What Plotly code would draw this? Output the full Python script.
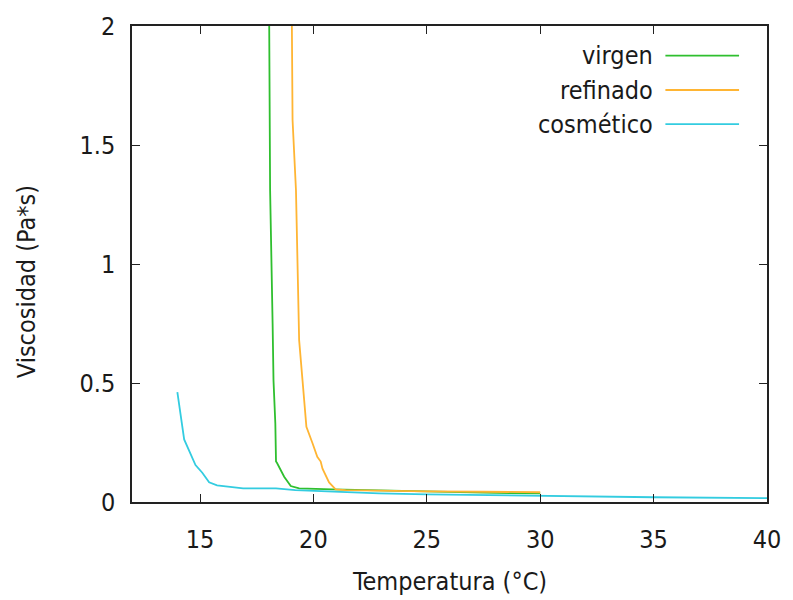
import plotly.graph_objects as go

# Data
virgen_x = [18.05, 18.09, 18.2, 18.24, 18.32, 18.35, 18.39, 18.64, 18.71, 19.0, 19.37, 20.83, 22.9, 25.0, 27.5, 30.0]
virgen_y = [2.0, 1.31, 0.75, 0.51, 0.33, 0.17, 0.165, 0.12, 0.106, 0.067, 0.057, 0.053, 0.048, 0.043, 0.039, 0.036]

refinado_x = [19.05, 19.08, 19.23, 19.37, 19.52, 19.69, 19.96, 20.17, 20.32, 20.4, 20.69, 20.9, 20.98, 21.42, 22.9, 25.0, 27.5, 30.0]
refinado_y = [2.0, 1.605, 1.31, 0.68, 0.51, 0.316, 0.247, 0.19, 0.17, 0.14, 0.082, 0.06, 0.053, 0.05, 0.047, 0.045, 0.043, 0.041]

cosmetico_x = [14.0, 14.3, 14.8, 15.1, 15.4, 15.75, 16.9, 18.35, 19.2, 22.9, 25.0, 30.0, 35.0, 40.0]
cosmetico_y = [0.462, 0.263, 0.155, 0.123, 0.083, 0.07, 0.057, 0.057, 0.05, 0.036, 0.032, 0.025, 0.02, 0.016]

series_names = ["virgen", "refinado", "cosmético"]
series_colors = ["#2fbf2f", "#ffb533", "#33cce0"]

x_ticks = [15, 20, 25, 30, 35, 40]
y_ticks = [0, 0.5, 1, 1.5, 2]

FONT = "DejaVu Sans Condensed"
FS = 25
TXT = "#1a1a1a"

fig = go.Figure()
for name, xs, ys, col in zip(series_names,
                             [virgen_x, refinado_x, cosmetico_x],
                             [virgen_y, refinado_y, cosmetico_y],
                             series_colors):
    fig.add_trace(go.Scatter(x=xs, y=ys, mode="lines", name=name,
                             line=dict(color=col, width=1.8), showlegend=False))

# gnuplot-style key: right-aligned text with line sample on the right
key_y = [0.9376, 0.8655, 0.794]
for name, col, ky in zip(series_names, series_colors, key_y):
    fig.add_annotation(xref="paper", yref="paper", x=0.824, y=ky, text=name,
                       showarrow=False, xanchor="right", yanchor="middle",
                       font=dict(family=FONT, size=FS, color=TXT))
    fig.add_shape(type="line", xref="paper", yref="paper",
                  x0=0.840, x1=0.956, y0=ky, y1=ky,
                  line=dict(color=col, width=1.8))

# axis titles
fig.add_annotation(xref="paper", yref="paper", x=0.5, y=-0.168, text="Temperatura (°C)",
                   showarrow=False, xanchor="center", yanchor="middle",
                   font=dict(family=FONT, size=FS, color=TXT))
fig.add_annotation(xref="paper", yref="paper", x=-0.166, y=0.463, text="Viscosidad (Pa*s)",
                   showarrow=False, xanchor="center", yanchor="middle", textangle=-90,
                   font=dict(family=FONT, size=FS, color=TXT))

axis_common = dict(showgrid=False, zeroline=False, showline=True, mirror="allticks",
                   linecolor="#222222", linewidth=1.5, ticks="inside", ticklen=8,
                   tickcolor="#222222", tickwidth=1.3,
                   tickfont=dict(family=FONT, size=FS, color=TXT))

fig.update_xaxes(range=[12, 40], tickvals=x_ticks, ticktext=[str(v) for v in x_ticks],
                 ticklabelstandoff=14, **axis_common)
fig.update_yaxes(range=[0, 2], tickvals=y_ticks, ticktext=["0", "0.5", "1", "1.5", "2"],
                 ticklabelstandoff=10, **axis_common)

fig.update_layout(width=793, height=600, plot_bgcolor="white", paper_bgcolor="white",
                  margin=dict(l=132, r=23, t=26, b=98))

fig.write_html("out.html")
